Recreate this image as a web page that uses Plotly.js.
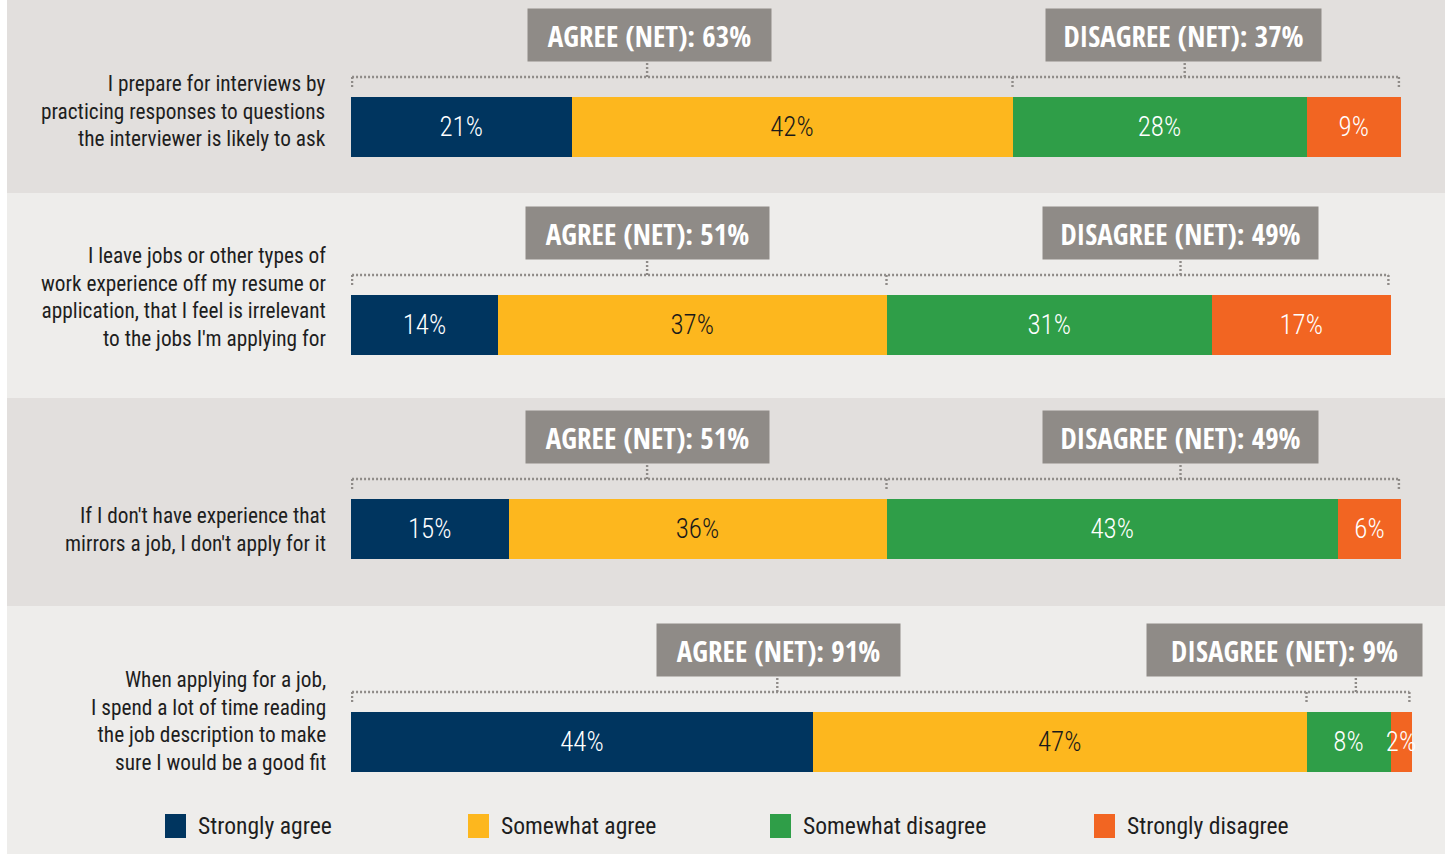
<!DOCTYPE html>
<html><head><meta charset="utf-8">
<script src="https://cdn.plot.ly/plotly-3.0.1.min.js"></script>
<style>html,body{margin:0;padding:0;background:#fff;overflow:hidden}</style>
</head><body><div id="chart" style="width:1445px;height:854px"></div>
<script>
// ---- data ----
const questions = [
  "I prepare for interviews by<br>practicing responses to questions<br>the interviewer is likely to ask",
  "I leave jobs or other types of<br>work experience off my resume or<br>application, that I feel is irrelevant<br>to the jobs I'm applying for",
  "If I don't have experience that<br>mirrors a job, I don't apply for it",
  "When applying for a job,<br>I spend a lot of time reading<br>the job description to make<br>sure I would be a good fit"
];
const seriesNames = ["Strongly agree", "Somewhat agree", "Somewhat disagree", "Strongly disagree"];
const stronglyAgree    = [21, 14, 15, 44];
const somewhatAgree    = [42, 37, 36, 47];
const somewhatDisagree = [28, 31, 43, 8];
const stronglyDisagree = [9, 17, 6, 2];
const agreeNet    = [63, 51, 51, 91];
const disagreeNet = [37, 49, 49, 9];

// ---- layout constants ----
const W = 1445, H = 854;
const FONT = '"Roboto Condensed", "Open Sans", sans-serif';
const BOX_FONT = '"Open Sans Condensed", "Roboto Condensed", sans-serif';
const COLORS = ["#00355f", "#fdb71e", "#2f9e48", "#f26522"];
const TEXT_COLORS = ["#ffffff", "#1a1a1a", "#ffffff", "#ffffff"];
const BAR_TOP = [97, 295, 499, 712], BAR_H = 60;
const X0 = 351, PX_PER_PCT = 10.5, X_MAX = 102;
const LABEL_SHIFT = [16, 28, 0, 21];
const AGREE_BOX_X = [28.4, 28.2, 28.2, 40.7];
const DISAGREE_BOX_X = [79.3, 79.0, 79.0, 88.9];
const AGREE_TICK_X = [28.2, 28.2, 28.2, 40.6];
const DISAGREE_TICK_X = [79.4, 79.0, 79.0, 95.7];
const BANDS = [[0,193,"#e2dfdd"],[193,398,"#eeedeb"],[398,606,"#e2dfdd"],[606,854,"#eeedeb"]];
const LEGEND_X = [165, 468, 770, 1094];
const DOT = {color: "#8f8b88", width: 2.4, dash: "2px,2px"};

const series = [stronglyAgree, somewhatAgree, somewhatDisagree, stronglyDisagree];

const traces = [];
const shapes = [];
const annotations = [];
const layout = {
  width: W, height: H,
  margin: {l: 0, r: 0, t: 0, b: 0, pad: 0},
  paper_bgcolor: "#ffffff",
  plot_bgcolor: "rgba(0,0,0,0)",
  barmode: "stack", bargap: 0,
  showlegend: false,
  font: {family: FONT},
  xaxis: {domain: [X0 / W, (X0 + X_MAX * PX_PER_PCT) / W], range: [0, X_MAX], visible: false, fixedrange: true}
};

BANDS.forEach(b => shapes.push({type: "rect", layer: "below", xref: "paper", yref: "paper",
  x0: 7 / W, x1: 1, y0: 1 - b[1] / H, y1: 1 - b[0] / H, fillcolor: b[2], line: {width: 0}}));

const unitPx = BAR_H; // domain 0..1 spans the bar
const LINE_Y = 1 + 20 / unitPx, END_Y = 1 + 8 / unitPx, BOX_Y = 1 + 35 / unitPx;

questions.forEach((q, i) => {
  const yid = i === 0 ? "y" : "y" + (i + 1);
  const ykey = i === 0 ? "yaxis" : "yaxis" + (i + 1);
  layout[ykey] = {domain: [1 - (BAR_TOP[i] + BAR_H) / H, 1 - BAR_TOP[i] / H], range: [-0.5, 0.5],
    type: "category", visible: false, anchor: "x", fixedrange: true};
  series.forEach((vals, s) => {
    traces.push({type: "bar", orientation: "h", x: [vals[i]], y: [q], xaxis: "x", yaxis: yid,
      name: seriesNames[s], marker: {color: COLORS[s], line: {width: 0}},
      text: [vals[i] + "%"], textposition: "inside", insidetextanchor: "middle", textangle: 0,
      constraintext: "none", cliponaxis: false,
      textfont: {family: FONT, size: 27, color: TEXT_COLORS[s], weight: 300}, hoverinfo: "skip"});
  });
  const yref = yid + " domain";
  const agreeEnd = stronglyAgree[i] + somewhatAgree[i];
  const total = agreeEnd + somewhatDisagree[i] + stronglyDisagree[i];
  const xStart = 0.1, xEnd = total - 0.2;
  shapes.push({type: "line", xref: "x", yref: yref, x0: xStart, x1: xEnd, y0: LINE_Y, y1: LINE_Y, line: DOT});
  [xStart, agreeEnd, xEnd].forEach(x => shapes.push({type: "line", xref: "x", yref: yref,
    x0: x, x1: x, y0: LINE_Y, y1: END_Y, line: DOT}));
  [AGREE_TICK_X[i], DISAGREE_TICK_X[i]].forEach(x => shapes.push({type: "line", xref: "x", yref: yref,
    x0: x, x1: x, y0: LINE_Y, y1: BOX_Y, line: DOT}));
  annotations.push({xref: "x", yref: yref, x: AGREE_BOX_X[i], y: BOX_Y, xanchor: "center", yanchor: "bottom",
    text: "<b>AGREE (NET): " + agreeNet[i] + "%</b>", showarrow: false, bgcolor: "#8f8b87",
    width: 243, height: 52, borderpad: 0, font: {family: BOX_FONT, size: 29, color: "#ffffff"}});
  annotations.push({xref: "x", yref: yref, x: DISAGREE_BOX_X[i], y: BOX_Y, xanchor: "center", yanchor: "bottom",
    text: "<b>DISAGREE (NET): " + disagreeNet[i] + "%</b>", showarrow: false, bgcolor: "#8f8b87",
    width: 275, height: 52, borderpad: 0, font: {family: BOX_FONT, size: 29, color: "#ffffff"}});
  annotations.push({xref: "paper", yref: yref, x: 328 / W, y: 0.5, xanchor: "right", yanchor: "middle",
    yshift: LABEL_SHIFT[i], align: "right", text: q, showarrow: false,
    font: {family: FONT, size: 21.3, color: "#1e1e1e"}});
});

seriesNames.forEach((n, s) => {
  shapes.push({type: "rect", xref: "paper", yref: "paper", x0: LEGEND_X[s] / W, x1: (LEGEND_X[s] + 21) / W,
    y0: 1 - 838 / H, y1: 1 - 814 / H, fillcolor: COLORS[s], line: {width: 0}});
  annotations.push({xref: "paper", yref: "paper", x: (LEGEND_X[s] + 31) / W, y: 1 - 826 / H,
    xanchor: "left", yanchor: "middle", text: n, showarrow: false,
    font: {family: FONT, size: 23.6, color: "#1e1e1e"}});
});

layout.shapes = shapes;
layout.annotations = annotations;
Plotly.newPlot("chart", traces, layout, {displayModeBar: false, staticPlot: true});
</script>
</body></html>
